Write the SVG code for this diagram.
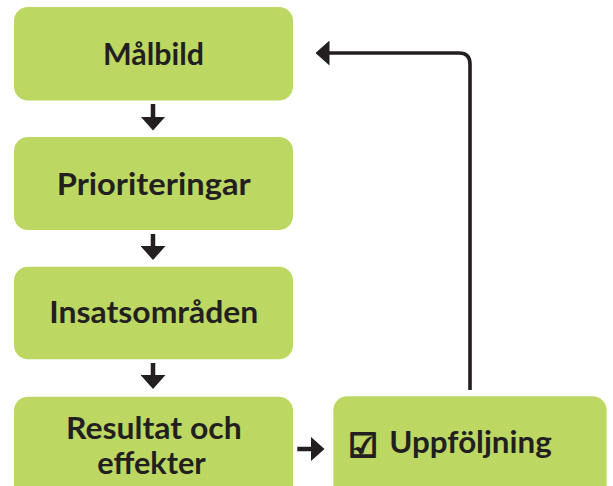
<svg xmlns="http://www.w3.org/2000/svg" width="613" height="486" viewBox="0 0 613 486">
<style>
.box{fill:#BDD862}
.t{font-family:Lato,"Open Sans","Liberation Sans",sans-serif;font-weight:bold;font-size:31px;fill:#231F20;text-anchor:middle}
.c{stroke:#231F20;fill:none}
</style>
<defs>
<marker id="ah" markerUnits="userSpaceOnUse" viewBox="0 0 14 25" refX="0.5" refY="12.5" markerWidth="14" markerHeight="25" orient="auto">
<path d="M0,0 L14,12.5 L0,25 z" fill="#231F20"/>
</marker>
</defs>
<rect width="613" height="486" fill="#fff"/>
<g id="malbild"><rect class="box" x="14" y="7" width="279" height="93.5" rx="14"/><text class="t" x="153.5" y="65" textLength="101" lengthAdjust="spacingAndGlyphs">Målbild</text></g>
<g id="prioriteringar"><rect class="box" x="14" y="137" width="279" height="93" rx="14"/><text class="t" x="153.7" y="195" textLength="194" lengthAdjust="spacingAndGlyphs">Prioriteringar</text></g>
<g id="insatsomraden"><rect class="box" x="14" y="266.7" width="279" height="92.6" rx="14"/><text class="t" x="153.8" y="323.3" textLength="209" lengthAdjust="spacingAndGlyphs">Insatsområden</text></g>
<g id="resultat"><rect class="box" x="14" y="396.7" width="279" height="105" rx="14"/><text class="t" x="153.8" y="439.3" textLength="175.7" lengthAdjust="spacingAndGlyphs">Resultat och</text><text class="t" x="151.5" y="474.3" textLength="108.4" lengthAdjust="spacingAndGlyphs">effekter</text></g>
<g id="uppfoljning"><rect class="box" x="333.3" y="396.3" width="273.4" height="105" rx="14"/><text x="363" y="457" font-family="'DejaVu Sans',sans-serif" font-weight="bold" font-size="33" fill="#231F20" stroke="#231F20" stroke-width="1.8" text-anchor="middle">☑</text><text class="t" x="470.5" y="453.3" textLength="162.4" lengthAdjust="spacingAndGlyphs">Uppföljning</text></g>
<g id="connectors">
<line class="c" x1="153" y1="104" x2="153" y2="117" stroke-width="4.5" marker-end="url(#ah)"/>
<line class="c" x1="153" y1="234" x2="153" y2="246.5" stroke-width="4.5" marker-end="url(#ah)"/>
<line class="c" x1="153" y1="363" x2="153" y2="375.5" stroke-width="4.5" marker-end="url(#ah)"/>
<line class="c" x1="297.3" y1="449" x2="311" y2="449" stroke-width="4.5" marker-end="url(#ah)"/>
<path class="c" d="M470,390 V64 Q470,53 459,53 H329" stroke-width="3.6" marker-end="url(#ah)"/>
</g>
</svg>
